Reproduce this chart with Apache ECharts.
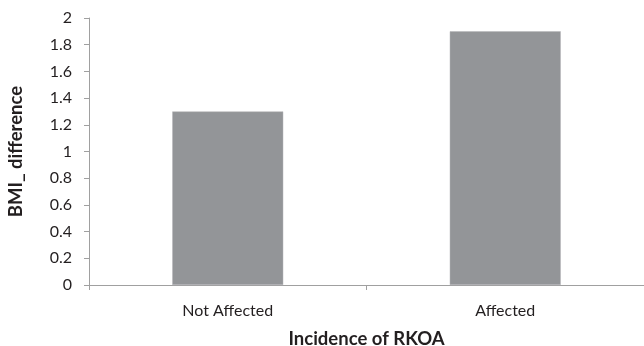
<!DOCTYPE html>
<html>
<head>
<meta charset="utf-8">
<script src="https://cdn.jsdelivr.net/npm/echarts@6/dist/echarts.min.js"></script>
<style>html,body{margin:0;padding:0;background:#fff}#c{width:644px;height:346px}</style>
</head>
<body>
<div id="c"></div>
<script>
const categories = ["Not Affected", "Affected"];
const bmiDifference = [1.3, 1.9];
const yTicks = [0, 0.2, 0.4, 0.6, 0.8, 1, 1.2, 1.4, 1.6, 1.8, 2];

const chart = echarts.init(document.getElementById('c'), null, {renderer: 'canvas'});
const font = 'Lato, "Open Sans", sans-serif';
chart.setOption({
  animation: false,
  grid: {left: 89, right: 0, top: 18, bottom: 61, containLabel: false, outerBoundsMode: 'none'},
  xAxis: {
    type: 'category',
    data: categories,
    name: 'Incidence of RKOA',
    nameLocation: 'middle',
    nameGap: 45,
    nameTextStyle: {fontFamily: font, fontSize: 18.5, fontWeight: 'bold', color: '#231f20'},
    axisLine: {lineStyle: {color: '#a0a0a0', width: 1}},
    axisTick: {show: true, alignWithLabel: false, length: 5, lineStyle: {color: '#a0a0a0'}},
    axisLabel: {fontFamily: font, fontSize: 16, color: '#231f20', margin: 18}
  },
  yAxis: {
    type: 'value',
    min: yTicks[0],
    max: yTicks[yTicks.length - 1],
    interval: 0.2,
    name: 'BMI_ difference',
    nameLocation: 'middle',
    nameGap: 63,
    nameTextStyle: {fontFamily: font, fontSize: 18.5, fontWeight: 'bold', color: '#231f20'},
    splitLine: {show: false},
    axisLine: {show: true, lineStyle: {color: '#a0a0a0', width: 1}},
    axisTick: {show: true, length: 5, lineStyle: {color: '#a0a0a0'}},
    axisLabel: {fontFamily: font, fontSize: 16, color: '#231f20', margin: 17,
      formatter: v => String(Math.round(v * 10) / 10)}
  },
  series: [{
    type: 'bar',
    data: bmiDifference,
    barWidth: '40%',
    itemStyle: {color: '#939598', borderColor: '#b4b5b8', borderWidth: 0.5}
  }]
});
</script>
</body>
</html>
